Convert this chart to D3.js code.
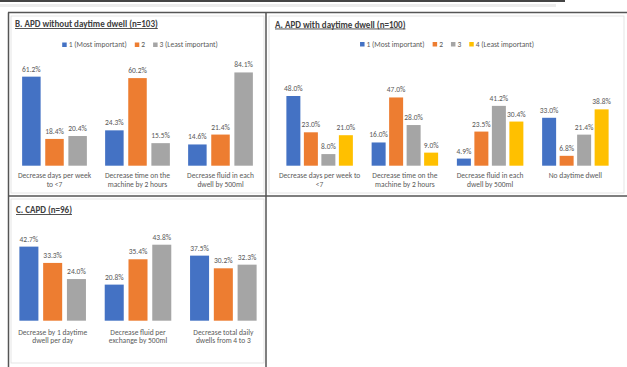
<!DOCTYPE html>
<html><head><meta charset="utf-8">
<script src="https://cdn.jsdelivr.net/npm/d3@7"></script>
<style>
html,body{margin:0;padding:0;background:#fff;}
svg{display:block;font-family:Calibri,Carlito,Lato,"Open Sans",sans-serif;}
</style></head>
<body>
<svg id="c" width="627" height="367"></svg>
<script>
const colors = ["#4472C4", "#ED7D31", "#A5A5A5", "#FFC000"];

// Panel B: APD without daytime dwell
const bTitle = "B. APD without daytime dwell (n=103)";
const bCategories = [["Decrease days per week", "to <7"], ["Decrease time on the", "machine by 2 hours"], ["Decrease fluid in each", "dwell by 500ml"]];
const bSeries = ["1 (Most important)", "2", "3 (Least important)"];
const bValues = [[61.2, 18.4, 20.4], [24.3, 60.2, 15.5], [14.6, 21.4, 64.1]];
const bLabels = [["61.2%", "18.4%", "20.4%"], ["24.3%", "60.2%", "15.5%"], ["14.6%", "21.4%", "84.1%"]];

// Panel A: APD with daytime dwell
const aTitle = "A. APD with daytime dwell (n=100)";
const aCategories = [["Decrease days per week to", "<7"], ["Decrease time on the", "machine by 2 hours"], ["Decrease fluid in each", "dwell by 500ml"], ["No daytime dwell"]];
const aSeries = ["1 (Most important)", "2", "3", "4 (Least important)"];
const aValues = [[48.0, 23.0, 8.0, 21.0], [16.0, 47.0, 28.0, 9.0], [4.9, 23.5, 41.2, 30.4], [33.0, 6.8, 21.4, 38.8]];

// Panel C: CAPD
const cTitle = "C. CAPD (n=96)";
const cCategories = [["Decrease by 1 daytime", "dwell per day"], ["Decrease fluid per", "exchange by 500ml"], ["Decrease total daily", "dwells from 4 to 3"]];
const cValues = [[42.7, 33.3, 24.0], [20.8, 35.4, 43.8], [37.5, 30.2, 32.3]];

const svg = d3.select("#c");

// top clipped caption line
svg.append("rect").attr("x", 0).attr("y", 0).attr("width", 565).attr("height", 2).attr("fill", "#444");
svg.append("rect").attr("x", 0).attr("y", 4).attr("width", 556).attr("height", 3).attr("fill", "#ececec");

function panel(cfg) {
  const g = svg.append("g");
  g.append("rect").attr("x", cfg.box[0]).attr("y", cfg.box[1]).attr("width", cfg.box[2]).attr("height", cfg.box[3])
    .attr("fill", "none").attr("stroke", "#dedede").attr("stroke-width", 0.8);
  g.append("text").attr("x", cfg.titleX).attr("y", cfg.titleY)
    .attr("font-size", 9).attr("font-weight", "bold").attr("fill", "#404040")
    .attr("text-decoration", "underline").text(cfg.title);

  const x0 = d3.scaleBand().domain(d3.range(cfg.values.length)).range(cfg.xr).paddingInner(0.22).paddingOuter(0.11);
  const x1 = d3.scaleBand().domain(d3.range(cfg.values[0].length)).range([0, x0.bandwidth()]).paddingInner(0.2);
  const y = d3.scaleLinear().domain([0, 100]).range([cfg.base, cfg.base - cfg.pxPer100]);

  cfg.values.forEach((vals, i) => {
    const gg = g.append("g").attr("transform", `translate(${x0(i)},0)`);
    gg.selectAll("rect").data(vals).join("rect")
      .attr("x", (d, j) => x1(j)).attr("width", x1.bandwidth())
      .attr("y", d => y(d)).attr("height", d => y(0) - y(d))
      .attr("fill", (d, j) => colors[j]);
    gg.selectAll("text").data(vals).join("text")
      .attr("x", (d, j) => x1(j) + x1.bandwidth() / 2).attr("y", d => y(d) - 5)
      .attr("text-anchor", "middle").attr("font-size", 7.5).attr("fill", "#595959")
      .text((d, j) => cfg.labels ? cfg.labels[i][j] : d.toFixed(1) + "%");
    const cx = x0(i) + x0.bandwidth() / 2;
    const lt = g.append("text").attr("x", cx).attr("y", cfg.catY)
      .attr("text-anchor", "middle").attr("font-size", 7.5).attr("fill", "#595959");
    cfg.categories[i].forEach((s, k) => lt.append("tspan").attr("x", cx).attr("dy", k ? 8.6 : 0).text(s));
  });

  if (cfg.legend) {
    const lg = g.append("g");
    let xpos = 0;
    cfg.legend.forEach((s, j) => {
      lg.append("rect").attr("x", xpos).attr("y", cfg.legendY - 4.5).attr("width", 4.5).attr("height", 4.5).attr("fill", colors[j]);
      const t = lg.append("text").attr("x", xpos + 6.5).attr("y", cfg.legendY).attr("font-size", 7.5).attr("fill", "#595959").text(s);
      xpos += 6.5 + t.node().getComputedTextLength() + 8;
    });
    const w = xpos - 8;
    lg.attr("transform", `translate(${cfg.legendCX - w / 2},0)`);
  }
}

panel({
  title: bTitle, titleX: 15, titleY: 27, box: [11, 16, 253, 177],
  values: bValues, labels: bLabels, categories: bCategories,
  xr: [13, 262], base: 165.7, pxPer100: 145.5, catY: 178,
  legend: bSeries, legendCX: 140, legendY: 47
});

panel({
  title: aTitle, titleX: 275, titleY: 27.5, box: [269, 16, 355, 177],
  values: aValues, categories: aCategories,
  xr: [277, 618], base: 165.7, pxPer100: 145.2, catY: 178,
  legend: aSeries, legendCX: 447, legendY: 46.5
});

panel({
  title: cTitle, titleX: 16, titleY: 213, box: [11, 199, 253, 164],
  values: cValues, categories: cCategories,
  xr: [10, 266], base: 320.7, pxPer100: 173.5, catY: 334.5
});

// dark frame lines
const frame = svg.append("g").attr("stroke", "#555").attr("stroke-width", 1.5);
frame.append("line").attr("x1", 8).attr("x2", 627).attr("y1", 12.5).attr("y2", 12.5);
frame.append("line").attr("x1", 8.5).attr("x2", 8.5).attr("y1", 12.5).attr("y2", 367);
frame.append("line").attr("x1", 266).attr("x2", 266).attr("y1", 12.5).attr("y2", 367);
frame.append("line").attr("x1", 8).attr("x2", 627).attr("y1", 196).attr("y2", 196);
</script>
</body></html>
